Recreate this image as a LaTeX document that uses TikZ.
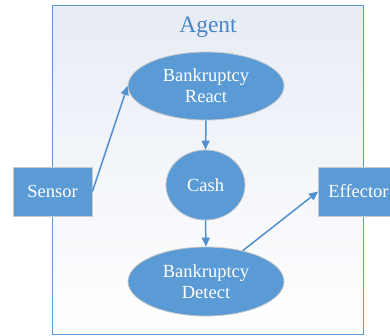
\documentclass[tikz,border=0pt]{standalone}
\usepackage{fontspec}
\setmainfont{Liberation Serif}
\usetikzlibrary{shapes.geometric,arrows.meta}
\definecolor{nodeblue}{HTML}{5B9BD5}
\definecolor{arrowblue}{HTML}{5090D0}
\definecolor{titleblue}{HTML}{4A86C5}
\definecolor{edgegray}{HTML}{C8C8C8}
\definecolor{bgtop}{HTML}{E7ECF5}
\tikzset{
  lbl/.style={text=white, font=\fontsize{18.5}{21}\selectfont, align=center, inner sep=0pt},
  oval/.style={lbl, ellipse, fill=nodeblue, draw=edgegray, line width=0.8pt},
  box/.style={lbl, rectangle, fill=nodeblue, draw=edgegray, line width=0.8pt},
  conn/.style={draw=arrowblue, line width=1.5pt, -{Triangle[length=9pt,width=8pt]}}
}
\begin{document}
\begin{tikzpicture}[x=1pt,y=-1pt]
\useasboundingbox (0,0) rectangle (390,335);
\node[draw=nodeblue, line width=1pt, top color=bgtop, bottom color=white, minimum width=311pt, minimum height=329pt, inner sep=0pt] (agent) at (207.5,169.5) {};
\node[text=titleblue, font=\fontsize{23.5}{27}\selectfont, inner sep=0pt] (title) at (208,27.5) {Agent};
\node[oval, minimum width=156pt, minimum height=68pt] (react) at (206,86) {Bankruptcy\\React};
\node[oval, minimum width=79pt, minimum height=70pt] (cash) at (205.5,185) {Cash};
\node[oval, minimum width=156pt, minimum height=69pt] (detect) at (206,281.5) {Bankruptcy\\Detect};
\node[box, minimum width=79pt, minimum height=49pt] (sensor) at (52.5,191.5) {Sensor};
\node[box, minimum width=80pt, minimum height=49pt] (effector) at (358.5,191.5) {Effector};
\draw[conn] (sensor.east) -- (react.west);
\draw[conn] (react.south) -- (cash.north);
\draw[conn] (cash.south) -- (detect.north);
\draw[conn] (detect.40) -- (effector.west);
\end{tikzpicture}
\end{document}
